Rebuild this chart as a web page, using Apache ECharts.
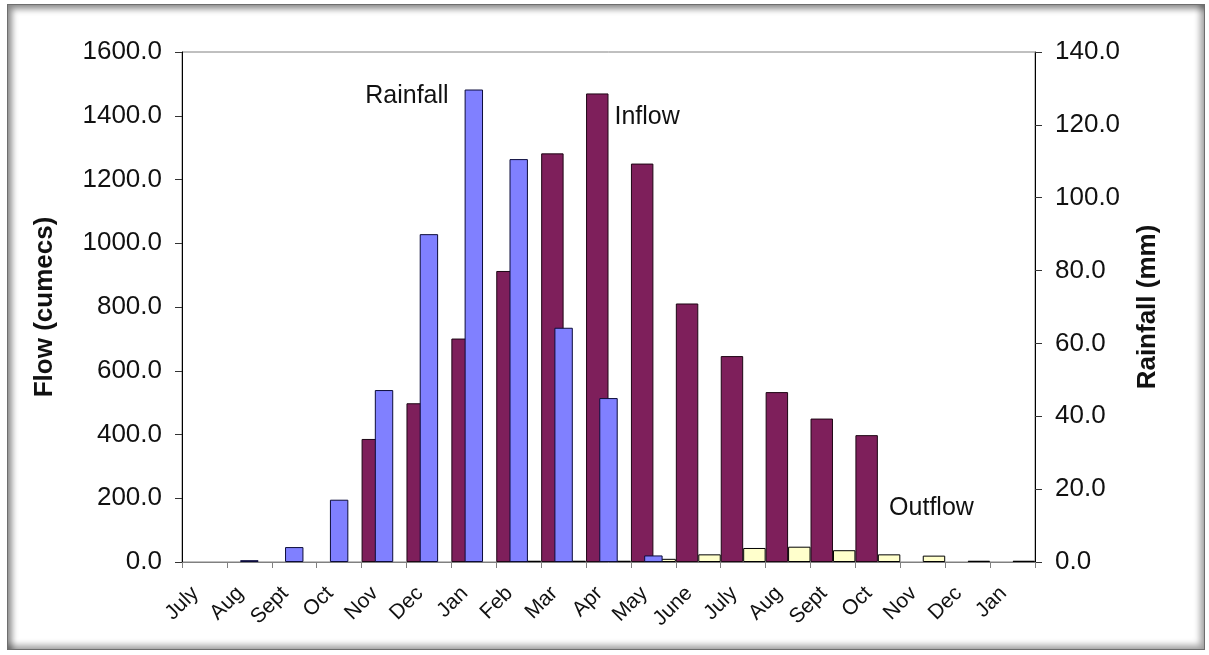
<!DOCTYPE html>
<html>
<head>
<meta charset="utf-8">
<title>Flow and Rainfall</title>
<script src="https://cdn.jsdelivr.net/npm/echarts@6/dist/echarts.min.js"></script>
<style>
  html, body { margin: 0; padding: 0; background: #fff; }
  #wrap { position: relative; width: 1209px; height: 655px; overflow: hidden; }
  #chart { position: absolute; left: 0; top: 0; width: 1209px; height: 655px; }
  #frame {
    position: absolute; left: 7px; top: 4px; width: 1196px; height: 644px;
    border: 1px solid #6e6e6e;
    box-shadow: inset 4px 4px 6px rgba(0,0,0,0.45), inset -4px -4px 6px rgba(0,0,0,0.35);
    pointer-events: none;
  }
</style>
</head>
<body>
<div id="wrap">
  <div id="chart"></div>
  <div id="frame"></div>
</div>
<script>
// Months from July through the following January (19 months)
const months = ['July', 'Aug', 'Sept', 'Oct', 'Nov', 'Dec', 'Jan', 'Feb', 'Mar', 'Apr',
                'May', 'June', 'July', 'Aug', 'Sept', 'Oct', 'Nov', 'Dec', 'Jan'];

// Monthly flows (cumecs)
const inflow  = [0, 0, 0, 0, 386, 498, 701, 913, 1282, 1470, 1250, 811, 646, 533, 450, 398, 0, 0, 0];
const outflow = [0, 0, 0, 0, 0, 0, 0, 4, 4, 4, 10, 24, 44, 48, 37, 24, 20, 4, 4];

// Monthly rainfall (mm)
const rainfall = [0, 0.5, 4.1, 17.1, 47.2, 90, 129.7, 110.6, 64.3, 45, 1.8, 0, 0, 0, 0, 0, 0, 0, 0];

// Axis ranges
const flowTicks = { min: 0, max: 1600, interval: 200 };
const rainTicks = { min: 0, max: 140, interval: 20 };

const FONT = '"Liberation Sans", Arial, sans-serif';

// Zero months leave no bar at all
const asBars = arr => arr.map(v => (v === 0 ? '-' : v));

const inflowData = asBars(inflow);
const outflowData = asBars(outflow);
const rainData = asBars(rainfall);

// Series name tags attached to one bar each
rainData[6] = {
  value: rainfall[6],
  label: { show: true, formatter: 'Rainfall', position: [-16, 7], align: 'right', verticalAlign: 'middle' }
};
inflowData[9] = {
  value: inflow[9],
  label: { show: true, formatter: 'Inflow', position: ['100%', 24], align: 'left', verticalAlign: 'middle', padding: [0, 0, 0, 6] }
};
outflowData[15] = {
  value: outflow[15],
  label: { show: true, formatter: 'Outflow', position: ['50%', -46], align: 'left', verticalAlign: 'middle' }
};

const tagLabel = { show: false, color: '#111', fontFamily: FONT, fontSize: 25 };

const chart = echarts.init(document.getElementById('chart'), null, { renderer: 'canvas' });

chart.setOption({
  animation: false,
  backgroundColor: '#fff',
  grid: {
    left: 182, right: 174, top: 52, bottom: 93,
    show: true, backgroundColor: '#fff', borderColor: '#808080', borderWidth: 1
  },
  xAxis: [
    {
      type: 'category',
      data: months,
      boundaryGap: true,
      axisLine: { show: true, lineStyle: { color: '#808080', width: 1 } },
      axisTick: { show: true, length: 6, lineStyle: { color: '#808080' } },
      axisLabel: {
        rotate: 45, interval: 0, margin: 19,
        color: '#111', fontFamily: FONT, fontSize: 21,
        padding: [0, 13, 0, 0]
      },
      splitLine: { show: false }
    },
    {
      type: 'category',
      data: months,
      show: false
    }
  ],
  yAxis: [
    {
      type: 'value',
      min: flowTicks.min, max: flowTicks.max, interval: flowTicks.interval,
      position: 'left',
      name: 'Flow (cumecs)',
      nameLocation: 'middle',
      nameRotate: 90,
      nameGap: 124,
      nameTextStyle: { fontFamily: FONT, fontSize: 26, fontWeight: 'bold', color: '#111' },
      axisLine: { show: true, lineStyle: { color: '#000', width: 1 } },
      axisTick: { show: true, length: 7, lineStyle: { color: '#333' } },
      axisLabel: {
        margin: 20, color: '#111', fontFamily: FONT, fontSize: 26,
        formatter: v => v.toFixed(1)
      },
      splitLine: { show: false }
    },
    {
      type: 'value',
      min: rainTicks.min, max: rainTicks.max, interval: rainTicks.interval,
      position: 'right',
      name: 'Rainfall (mm)',
      nameLocation: 'middle',
      nameRotate: 90,
      nameGap: 100,
      nameTextStyle: { fontFamily: FONT, fontSize: 26, fontWeight: 'bold', color: '#111' },
      axisLine: { show: true, lineStyle: { color: '#000', width: 1 } },
      axisTick: { show: true, length: 7, lineStyle: { color: '#333' } },
      axisLabel: {
        margin: 20, color: '#111', fontFamily: FONT, fontSize: 26,
        formatter: v => v.toFixed(1)
      },
      splitLine: { show: false }
    }
  ],
  series: [
    {
      name: 'Inflow',
      type: 'bar',
      xAxisIndex: 0, yAxisIndex: 0,
      data: inflowData,
      barGap: '0%', barCategoryGap: '0%',
      itemStyle: { color: '#7E1F5B', borderColor: '#1e0614', borderWidth: 1 },
      label: tagLabel
    },
    {
      name: 'Outflow',
      type: 'bar',
      xAxisIndex: 0, yAxisIndex: 0,
      data: outflowData,
      barGap: '0%', barCategoryGap: '0%',
      itemStyle: { color: '#FFFFCC', borderColor: '#000', borderWidth: 1 },
      label: tagLabel
    },
    {
      name: 'Rainfall',
      type: 'bar',
      xAxisIndex: 1, yAxisIndex: 1,
      data: rainData,
      barWidth: '41%',
      z: 3,
      itemStyle: { color: '#8080FF', borderColor: '#0c0c3a', borderWidth: 1 },
      label: tagLabel
    }
  ]
});
</script>
</body>
</html>
